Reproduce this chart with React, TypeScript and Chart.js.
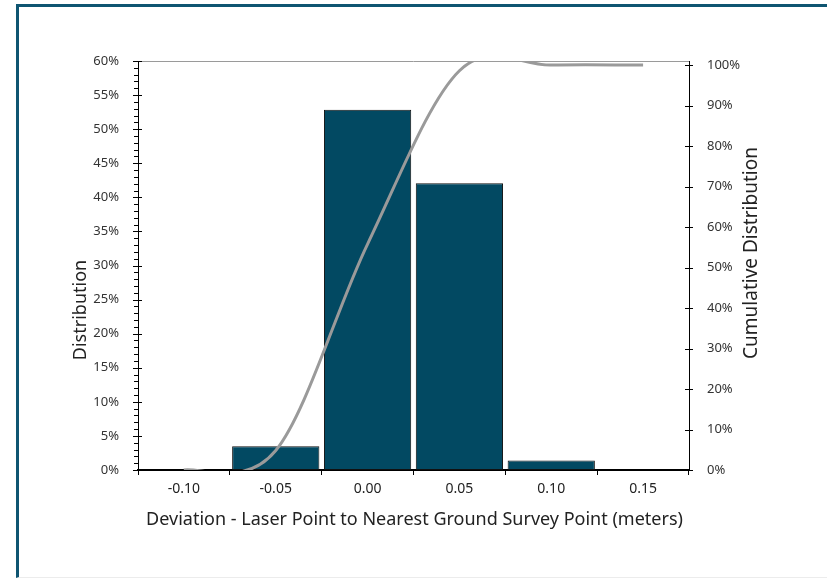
import React, { useEffect, useRef } from "react";
import { Chart, registerables } from "chart.js";

Chart.register(...registerables);

const categories = ["-0.10", "-0.05", "0.00", "0.05", "0.10", "0.15"];
const distribution = [0, 3.5, 52.85, 42.06, 1.4, 0];
const cumulative = [0, 4.8, 55.8, 98.6, 100, 100];
const leftTicksMax = 60;
const rightTicksMax = 101;

const FONT = "'Noto Sans', sans-serif";

// Excel-style smoothing: Catmull-Rom control points (neighbour span / 6)
const excelSmooth = {
  id: "excelSmooth",
  beforeDatasetDraw(chart: any, args: any) {
    const meta = args.meta;
    if (meta.type !== "line") return;
    const line = meta.dataset;
    if (line && line.updateControlPoints) line.updateControlPoints(chart.chartArea, meta.indexAxis);
    const pts = meta.data;
    for (let i = 0; i < pts.length; i++) {
      const p = pts[i];
      const prev = pts[i - 1] || p;
      const next = pts[i + 1] || p;
      const dx = (next.x - prev.x) / 6;
      const dy = (next.y - prev.y) / 6;
      p.cp1x = p.x - dx;
      p.cp1y = p.y - dy;
      p.cp2x = p.x + dx;
      p.cp2y = p.y + dy;
    }
    if (line) line._path = undefined;
  },
};

const decorations = {
  id: "decorations",
  afterDraw(chart: any) {
    const ctx = chart.ctx;
    const area = chart.chartArea;
    const y = chart.scales.y;
    const y1 = chart.scales.y1;
    ctx.save();
    ctx.strokeStyle = "#9a9a9a";
    ctx.lineWidth = 1;
    ctx.beginPath();
    ctx.moveTo(area.left, Math.round(area.top) + 0.5);
    ctx.lineTo(area.right, Math.round(area.top) + 0.5);
    ctx.stroke();
    ctx.strokeStyle = "#000";
    ctx.beginPath();
    for (let v = 0; v <= leftTicksMax; v += 1) {
      const py = Math.round(y.getPixelForValue(v)) + 0.5;
      if (v % 5 === 0) {
        ctx.moveTo(area.left - 5, py);
        ctx.lineTo(area.left + 4, py);
      } else {
        ctx.moveTo(area.left - 4, py);
        ctx.lineTo(area.left, py);
      }
    }
    for (let v = 0; v <= 100; v += 10) {
      const py = Math.round(y1.getPixelForValue(v)) + 0.5;
      ctx.moveTo(area.right - 4, py);
      ctx.lineTo(area.right + 4, py);
    }
    ctx.stroke();
    ctx.fillStyle = "#222";
    ctx.font = `18px ${FONT}`;
    ctx.textAlign = "center";
    ctx.textBaseline = "middle";
    ctx.fillText(
      "Deviation - Laser Point to Nearest Ground Survey Point (meters)",
      (area.left + area.right) / 2 + 1,
      520
    );
    ctx.save();
    ctx.translate(81, 310);
    ctx.rotate(-Math.PI / 2);
    ctx.fillText("Distribution", 0, 0);
    ctx.restore();
    ctx.save();
    ctx.font = `19px ${FONT}`;
    ctx.translate(752, 253);
    ctx.rotate(-Math.PI / 2);
    ctx.fillText("Cumulative Distribution", 0, 0);
    ctx.restore();
    ctx.restore();
  },
};

export default function App() {
  const ref = useRef<HTMLCanvasElement>(null);
  useEffect(() => {
    const chart = new Chart(ref.current as HTMLCanvasElement, {
      type: "bar",
      data: {
        labels: categories,
        datasets: [
          {
            type: "line",
            label: "Cumulative Distribution",
            data: cumulative,
            yAxisID: "y1",
            borderColor: "#9a9a9a",
            borderWidth: 3,
            pointRadius: 0,
            tension: 0.4,
            capBezierPoints: false,
            clip: 0,
            order: 0,
          } as any,
          {
            type: "bar",
            label: "Distribution",
            data: distribution,
            yAxisID: "y",
            backgroundColor: "#024962",
            borderColor: "#111",
            borderWidth: 1,
            borderSkipped: false,
            barPercentage: 0.95,
            categoryPercentage: 1,
            order: 1,
          },
        ],
      },
      options: {
        animation: false,
        responsive: false,
        maintainAspectRatio: false,
        layout: { padding: { top: 61, left: 0, right: 0, bottom: 0 } },
        plugins: {
          legend: { display: false },
          tooltip: { enabled: false },
        },
        elements: { line: { capBezierPoints: false } },
        scales: {
          x: {
            type: "category",
            offset: true,
            grid: {
              display: true,
              drawOnChartArea: false,
              offset: true,
              tickLength: 5,
              color: "#000",
            },
            border: { display: true, color: "#000", width: 2 },
            ticks: {
              color: "#222",
              font: { family: FONT, size: 14 },
              padding: 6,
              maxRotation: 0,
            },
            afterFit: (s: any) => {
              s.height = 108;
            },
          },
          y: {
            position: "left",
            min: 0,
            max: leftTicksMax,
            grid: { display: false },
            border: { display: true, color: "#000", width: 1 },
            ticks: {
              stepSize: 5,
              includeBounds: false,
              padding: 11,
              color: "#333",
              font: { family: FONT, size: 13 },
              callback: (v: any) => v + "%",
            },
            afterFit: (s: any) => {
              s.width = 138;
            },
          },
          y1: {
            position: "right",
            min: 0,
            max: rightTicksMax,
            grid: { display: false },
            border: { display: true, color: "#000", width: 1 },
            ticks: {
              stepSize: 10,
              includeBounds: false,
              padding: 10,
              color: "#333",
              font: { family: FONT, size: 13 },
              callback: (v: any) => v + "%",
            },
            afterFit: (s: any) => {
              s.width = 138;
            },
          },
        },
      } as any,
      plugins: [excelSmooth, decorations],
    });
    return () => chart.destroy();
  }, []);

  return (
    <div style={{ position: "fixed", left: 0, top: 0, width: 827, height: 578, background: "#fff" }}>
      <div
        style={{
          position: "absolute",
          left: 16,
          top: 4,
          width: 830,
          height: 574,
          boxSizing: "border-box",
          borderLeft: "3px solid #0f5571",
          borderTop: "3px solid #0f5571",
          borderBottom: "1px solid #ececec",
        }}
      />
      <canvas
        ref={ref}
        width={827}
        height={578}
        style={{ position: "absolute", left: 0, top: 0, width: 827, height: 578 }}
      />
    </div>
  );
}
